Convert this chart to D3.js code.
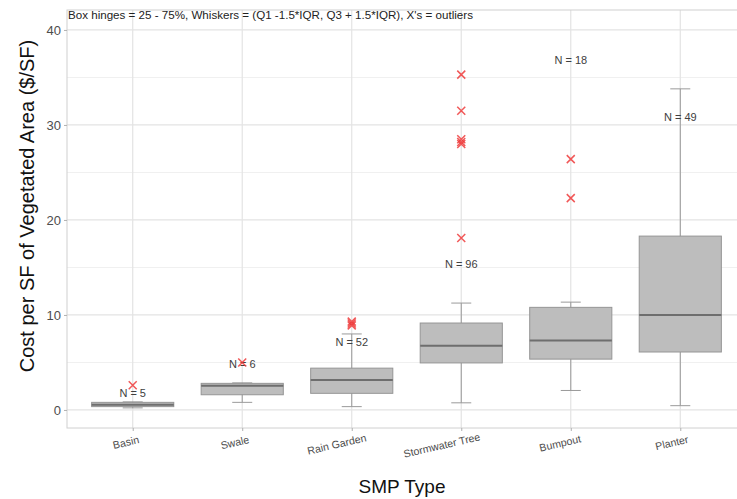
<!DOCTYPE html>
<html>
<head>
<meta charset="utf-8">
<script src="https://cdn.jsdelivr.net/npm/d3@7"></script>
<style>
  body { margin: 0; background: #fff; }
  text { font-family: "Liberation Sans", Arial, sans-serif; }
</style>
</head>
<body>
<div id="box"></div>
<script>
    const chartWidth = 737;
    const chartHeight = 499;

    // Data
    const categories = ["Basin", "Swale", "Rain Garden", "Stormwater Tree", "Bumpout", "Planter"];
    const whiskerLow = [0.22, 0.8, 0.35, 0.75, 2.05, 0.45];
    const q1 = [0.35, 1.6, 1.75, 4.95, 5.35, 6.1];
    const median = [0.55, 2.55, 3.15, 6.75, 7.3, 10.0];
    const q3 = [0.8, 2.8, 4.4, 9.15, 10.8, 18.3];
    const whiskerHigh = [0.85, 2.85, 8.0, 11.25, 11.35, 33.8];
    const outliers = [[2.6], [5.0], [8.9, 9.1, 9.3], [18.1, 28.0, 28.2, 28.5, 31.5, 35.3], [22.3, 26.4], []];
    const counts = [5, 6, 52, 96, 18, 49];
    const countLabelY = [1.74, 4.84, 7.1, 15.4, 36.8, 30.8];
    const yTicks = [0, 10, 20, 30, 40];
    const yMinorTicks = [5, 15, 25, 35];

    const rows = categories.map((c, i) => ({
      cat: c, lo: whiskerLow[i], q1: q1[i], med: median[i], q3: q3[i], hi: whiskerHigh[i],
      out: outliers[i], n: counts[i], ny: countLabelY[i]
    }));

    const panel = { left: 67, right: 746, top: 10, bottom: 428 };

    const svg = d3.select("#box").append("svg")
      .attr("width", chartWidth)
      .attr("height", chartHeight);

    // Scales
    const x = d3.scalePoint()
      .domain(categories)
      .range([panel.left, panel.right])
      .padding(0.6);

    const y = d3.scaleLinear()
      .domain([-1.9, 42.1])
      .range([panel.bottom, panel.top]);

    const boxW = x.step() * 0.75;
    const capW = 20;

    // Grid
    svg.append("g").selectAll("line")
      .data(yMinorTicks)
      .enter().append("line")
      .attr("x1", panel.left).attr("x2", panel.right)
      .attr("y1", d => y(d)).attr("y2", d => y(d))
      .attr("stroke", "#f0f0f0").attr("stroke-width", 1);

    svg.append("g").selectAll("line")
      .data(yTicks)
      .enter().append("line")
      .attr("x1", panel.left).attr("x2", panel.right)
      .attr("y1", d => y(d)).attr("y2", d => y(d))
      .attr("stroke", "#e3e3e3").attr("stroke-width", 1.2);

    svg.append("g").selectAll("line")
      .data(categories)
      .enter().append("line")
      .attr("x1", d => x(d)).attr("x2", d => x(d))
      .attr("y1", panel.top).attr("y2", panel.bottom)
      .attr("stroke", "#e3e3e3").attr("stroke-width", 1.2);

    // Panel border
    svg.append("rect")
      .attr("x", panel.left).attr("y", panel.top)
      .attr("width", panel.right - panel.left).attr("height", panel.bottom - panel.top)
      .attr("fill", "none").attr("stroke", "#d0d0d0");

    // Axes
    const yAxis = svg.append("g")
      .attr("transform", "translate(" + panel.left + ",0)")
      .call(d3.axisLeft(y).tickValues(yTicks).tickSize(3).tickPadding(3));
    yAxis.select(".domain").remove();
    yAxis.selectAll("line").attr("stroke", "#b0b0b0");
    yAxis.selectAll("text").style("font-size", "13px").attr("fill", "#4d4d4d");

    const xAxis = svg.append("g")
      .attr("transform", "translate(0," + panel.bottom + ")")
      .call(d3.axisBottom(x).tickSize(3));
    xAxis.select(".domain").remove();
    xAxis.selectAll("line").attr("stroke", "#b0b0b0");
    xAxis.selectAll("text")
      .style("font-size", "10.6px")
      .attr("fill", "#4d4d4d")
      .attr("text-anchor", "start")
      .attr("dy", 0)
      .attr("y", 0)
      .attr("x", function () { return -0.75 * this.getComputedTextLength(); })
      .attr("transform", "translate(0,16.5) rotate(-13)");

    // Boxes
    const g = svg.append("g").selectAll("g")
      .data(rows)
      .enter().append("g");

    g.append("line")
      .attr("x1", d => x(d.cat)).attr("x2", d => x(d.cat))
      .attr("y1", d => y(d.lo)).attr("y2", d => y(d.hi))
      .attr("stroke", "#9a9a9a");

    g.append("line")
      .attr("x1", d => x(d.cat) - capW / 2).attr("x2", d => x(d.cat) + capW / 2)
      .attr("y1", d => y(d.lo)).attr("y2", d => y(d.lo))
      .attr("stroke", "#9a9a9a");

    g.append("line")
      .attr("x1", d => x(d.cat) - capW / 2).attr("x2", d => x(d.cat) + capW / 2)
      .attr("y1", d => y(d.hi)).attr("y2", d => y(d.hi))
      .attr("stroke", "#9a9a9a");

    g.append("rect")
      .attr("x", d => x(d.cat) - boxW / 2)
      .attr("y", d => y(d.q3))
      .attr("width", boxW)
      .attr("height", d => y(d.q1) - y(d.q3))
      .attr("fill", "#bdbdbd")
      .attr("stroke", "#959595");

    g.append("line")
      .attr("x1", d => x(d.cat) - boxW / 2).attr("x2", d => x(d.cat) + boxW / 2)
      .attr("y1", d => y(d.med)).attr("y2", d => y(d.med))
      .attr("stroke", "#6e6e6e").attr("stroke-width", 2);

    // N labels
    g.append("text")
      .attr("x", d => x(d.cat))
      .attr("y", d => y(d.ny))
      .attr("dy", "0.35em")
      .attr("text-anchor", "middle")
      .style("font-size", "11px")
      .attr("fill", "#404040")
      .text(d => "N = " + d.n);

    // Outliers as X's
    const s = 4;
    g.each(function (d) {
      d3.select(this).selectAll("path.out")
        .data(d.out)
        .enter().append("path")
        .attr("class", "out")
        .attr("d", v => {
          const cx = x(d.cat), cy = y(v);
          return `M${cx - s},${cy - s}L${cx + s},${cy + s}M${cx - s},${cy + s}L${cx + s},${cy - s}`;
        })
        .attr("stroke", "#ee3b3b")
        .attr("stroke-opacity", 0.85)
        .attr("stroke-width", 1.5);
    });

    // Note at top
    svg.append("text")
      .attr("x", panel.left + 1)
      .attr("y", 19)
      .style("font-size", "11.6px")
      .attr("fill", "#222")
      .text("Box hinges = 25 - 75%, Whiskers = (Q1 -1.5*IQR, Q3 + 1.5*IQR), X's = outliers");

    // Y axis title
    svg.append("text")
      .attr("transform", "translate(34,206) rotate(-90)")
      .attr("text-anchor", "middle")
      .style("font-size", "20px")
      .attr("fill", "#111")
      .text("Cost per SF of Vegetated Area ($/SF)");

    // X axis title
    svg.append("text")
      .attr("x", 402)
      .attr("y", 493)
      .attr("text-anchor", "middle")
      .style("font-size", "19px")
      .attr("fill", "#111")
      .text("SMP Type");
</script>
</body>
</html>
